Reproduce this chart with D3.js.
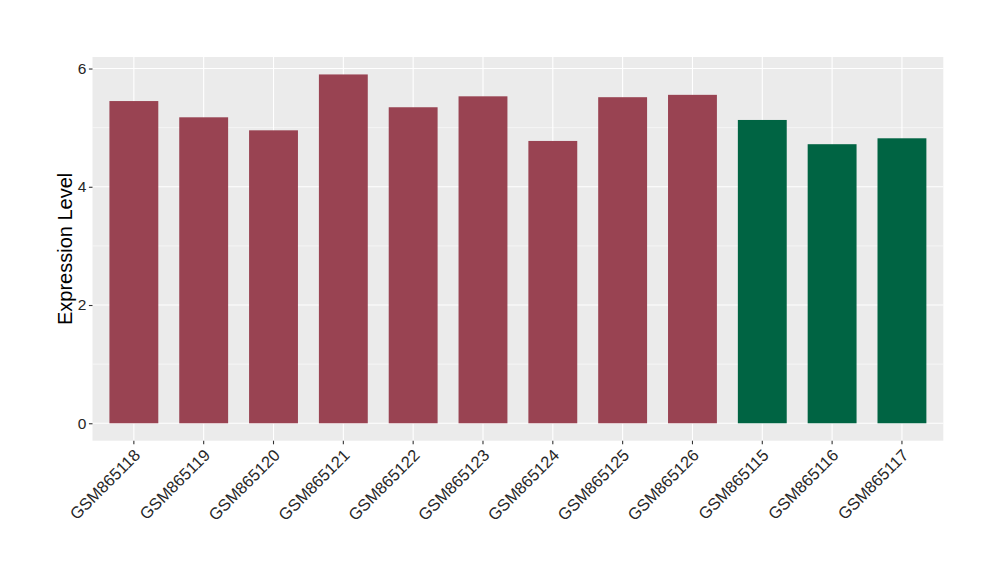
<!DOCTYPE html>
<html><head><meta charset="utf-8">
<script src="https://cdn.jsdelivr.net/npm/d3@7"></script>
<style>body{margin:0;background:#fff}</style>
</head><body>
<svg id="chart" width="1000" height="580"></svg>
<script>
const categories = ["GSM865118","GSM865119","GSM865120","GSM865121","GSM865122","GSM865123","GSM865124","GSM865125","GSM865126","GSM865115","GSM865116","GSM865117"];
const values = [5.45, 5.175, 4.955, 5.90, 5.345, 5.53, 4.775, 5.515, 5.555, 5.13, 4.72, 4.82];
const groups = ["A","A","A","A","A","A","A","A","A","B","B","B"];
const groupColors = {A:"#994352", B:"#006443"};
const yTicks = [0,2,4,6];
const yMinor = [1,3,5];

const svg = d3.select("#chart");
const L = 92.5, R = 943.3, T = 57, B = 440.7;
const ymax = d3.max(values);
const y = d3.scaleLinear().domain([-0.05*ymax, ymax*1.05]).range([B, T]);
const step = (R - L) / (categories.length + 1.2);
const x = d3.scaleBand().domain(categories)
  .range([L + 0.6*step - step/2, R - 0.6*step + step/2]).paddingInner(0.3).paddingOuter(0.15);
const xc = d => x(d) + x.bandwidth()/2;
const FONT = "'Liberation Sans', Arial, sans-serif";

svg.append("rect").attr("x", L).attr("y", T).attr("width", R-L).attr("height", B-T).attr("fill", "#EBEBEB");
const g = svg.append("g");
g.selectAll(".ymin").data(yMinor).enter().append("line")
  .attr("x1", L).attr("x2", R).attr("y1", d=>y(d)).attr("y2", d=>y(d))
  .attr("stroke", "#fff").attr("stroke-width", 0.55);
g.selectAll(".ymaj").data(yTicks).enter().append("line")
  .attr("x1", L).attr("x2", R).attr("y1", d=>y(d)).attr("y2", d=>y(d))
  .attr("stroke", "#fff").attr("stroke-width", 1.1);
g.selectAll(".xmaj").data(categories).enter().append("line")
  .attr("x1", d=>xc(d)).attr("x2", d=>xc(d)).attr("y1", T).attr("y2", B)
  .attr("stroke", "#fff").attr("stroke-width", 1.1);

svg.selectAll(".bar").data(categories).enter().append("rect")
  .attr("x", d=>x(d)).attr("width", x.bandwidth())
  .attr("y", (d,i)=>y(values[i])).attr("height", (d,i)=>y(0)-y(values[i]))
  .attr("fill", (d,i)=>groupColors[groups[i]]);

// y axis
const ya = svg.append("g").attr("transform", `translate(${L},0)`)
  .call(d3.axisLeft(y).tickValues(yTicks).tickSize(3.6).tickPadding(2.5).tickFormat(d3.format("d")));
ya.select(".domain").remove();
ya.selectAll("line").attr("stroke", "#333").attr("stroke-width", 1.1);
ya.selectAll("text").attr("fill", "#262626").style("font-family", FONT).style("font-size", "15.5px");

// x axis
const xa = svg.append("g").attr("transform", `translate(0,${B})`)
  .call(d3.axisBottom(x).tickSize(3.6).tickPadding(0));
xa.select(".domain").remove();
xa.selectAll("line").attr("stroke", "#333").attr("stroke-width", 1.1);
xa.selectAll("text")
  .attr("fill", "#262626")
  .style("font-family", FONT).style("font-size", "16.5px")
  .attr("text-anchor", "end")
  .attr("dy", null).attr("y", null)
  .attr("transform", "translate(-1,7) rotate(-45)")
  .attr("dominant-baseline", "hanging");

svg.append("text")
  .attr("transform", `translate(72,${(T+B)/2}) rotate(-90)`)
  .attr("text-anchor", "middle")
  .style("font-family", FONT).style("font-size", "20px")
  .attr("fill", "#000").text("Expression Level");
</script>
</body></html>
